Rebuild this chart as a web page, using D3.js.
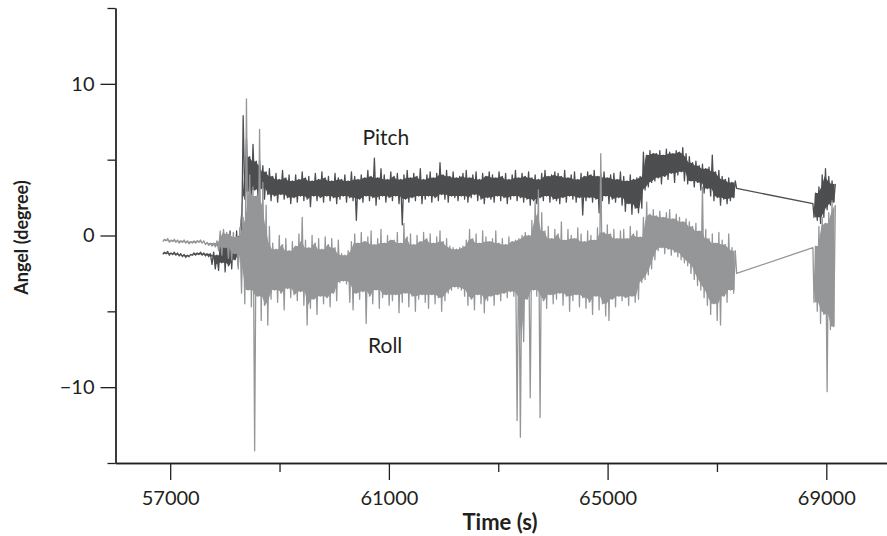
<!DOCTYPE html>
<html><head><meta charset="utf-8">
<script src="https://cdn.jsdelivr.net/npm/d3@7"></script>
<style>body{margin:0;background:#fff} svg{display:block}</style>
</head><body><svg id="c" width="887" height="536"></svg>
<script>
// ---------- data (per-bin low / high envelope) ----------
const seg1Start = 56880, binStep = 60;   // first recorded segment, 60 s bins
const seg1PitchLow = [
 -1.25,-1.2,-1.3,-1.25,-1.3,-1.35,-1.4,-1.45,-1.4,-1.3,
 -1.3,-1.25,-1.3,-1.35,-1.4,-1.9,-2.2,-2.3,-1.8,-2.4,
 -2.0,-2.2,-1.6,-2.0,-1.0,2.4,2.9,2.5,3.0,2.6,
 3.1,2.4,2.7,2.3,2.6,2.2,2.7,2.4,2.5,2.1,
 2.5,2.2,2.6,2.3,2.4,1.9,2.6,2.3,2.5,2.2,
 2.6,2.3,2.5,2.1,2.4,2.6,2.2,2.5,2.3,1.0,
 2.4,2.2,2.6,2.3,2.5,2.0,2.4,2.6,2.2,2.5,
 2.3,2.6,2.1,0.7,2.4,2.2,2.5,2.3,2.6,2.1,
 2.4,2.6,2.2,2.5,2.3,2.7,2.4,2.2,2.6,2.5,
 2.3,2.6,2.4,2.2,2.5,2.7,2.3,2.4,2.1,2.5,
 2.4,2.2,2.6,2.3,2.5,2.1,2.4,2.6,2.3,2.5,
 2.2,2.4,2.0,2.3,2.1,2.5,2.3,2.6,2.2,2.4,
 2.3,2.1,2.5,2.2,2.6,2.4,2.2,2.5,1.35,2.3,
 2.5,2.2,2.4,1.5,2.3,2.6,2.1,2.4,2.2,2.5,
 2.0,1.6,2.1,1.4,1.8,1.5,1.8,3.0,3.2,3.5,
 3.6,3.8,3.4,3.9,3.7,4.1,3.5,4.0,4.2,3.6,
 3.4,3.6,3.2,3.5,3.0,2.8,3.1,2.6,2.3,2.5,
 2.0,2.4,2.1,2.3,2.5
];
const seg1PitchHigh = [
 -1.1,-1.05,-1.15,-1.1,-1.15,-1.2,-1.25,-1.3,-1.25,-1.15,
 -1.15,-1.1,-1.15,-1.2,-1.2,-1.1,-1.3,-0.6,0.1,-0.3,
 0.3,-0.2,0.3,0.0,7.9,6.4,5.2,6.0,4.9,5.0,
 4.6,4.2,4.4,3.9,4.1,3.7,4.3,3.8,4.0,3.6,
 4.0,3.7,4.2,3.8,3.9,3.6,4.1,3.7,4.2,3.8,
 3.9,3.6,4.1,3.8,3.7,4.0,3.6,4.2,3.9,3.7,
 4.0,3.8,4.3,3.9,5.1,3.8,4.4,4.0,3.7,4.2,
 3.9,4.1,3.7,4.0,4.3,3.8,4.1,3.9,4.4,3.7,
 4.0,4.2,3.8,4.1,4.8,4.0,4.3,3.9,4.2,3.8,
 3.9,4.1,4.3,3.8,4.0,4.2,3.7,4.1,3.9,4.2,
 4.0,3.8,4.2,3.9,4.1,3.7,4.0,4.3,3.8,4.1,
 3.9,4.2,3.8,4.0,3.7,4.1,4.3,3.9,4.0,4.2,
 4.1,3.9,4.3,3.8,4.0,4.2,3.7,4.1,3.9,4.2,
 4.0,4.3,3.9,4.1,4.2,3.8,4.0,4.1,3.7,4.2,
 3.9,3.6,4.0,3.7,3.8,3.9,5.5,5.3,5.6,5.4,
 5.4,5.6,5.3,5.7,5.5,5.4,5.6,5.5,5.8,5.4,
 5.2,4.8,4.9,4.6,4.7,4.4,4.5,5.3,4.2,4.3,
 3.9,3.7,3.8,3.5,3.6
];
const seg1RollLow = [
 -0.4,-0.35,-0.45,-0.4,-0.45,-0.5,-0.45,-0.5,-0.55,-0.5,
 -0.5,-0.45,-0.5,-0.6,-0.65,-0.7,-0.75,-1.0,-1.3,-0.8,
 -1.5,-1.6,-1.2,-2.2,-3.8,-4.5,-3.6,-4.7,-14.2,-4.0,
 -5.6,-4.6,-5.9,-4.2,-3.6,-4.4,-3.8,-4.9,-3.5,-4.1,
 -3.9,-4.3,-3.7,-4.6,-5.9,-4.8,-4.2,-5.2,-4.0,-4.5,
 -4.1,-4.7,-3.8,-4.3,-3.1,-3.0,-3.2,-4.4,-4.9,-3.8,
 -4.2,-3.7,-5.8,-4.0,-4.5,-3.6,-4.8,-4.1,-3.9,-4.6,
 -4.3,-3.9,-5.1,-4.4,-3.8,-4.7,-4.0,-5.0,-4.2,-3.9,
 -4.4,-4.8,-3.9,-4.5,-4.1,-5.0,-4.3,-3.8,-3.6,-3.4,
 -3.5,-3.6,-4.0,-4.6,-4.2,-4.9,-3.9,-4.5,-5.1,-4.3,
 -4.0,-4.6,-3.9,-4.3,-3.8,-4.1,-3.7,-4.0,-12.2,-13.3,
 -7.0,-4.2,-10.7,-3.6,-4.0,-12.0,-4.3,-4.8,-3.9,-4.5,
 -4.2,-3.8,-4.6,-4.0,-5.0,-4.3,-3.9,-4.7,-4.1,-4.8,
 -4.4,-5.2,-4.0,-4.9,-4.5,-5.3,-5.6,-4.2,-4.7,-4.0,
 -4.3,-4.1,-4.6,-4.0,-4.4,-4.2,-3.1,-2.9,-2.6,-2.2,
 -1.6,-1.0,-0.8,-1.2,-0.9,-1.3,-1.1,-1.4,-1.6,-1.8,
 -2.0,-2.5,-2.9,-3.3,-3.6,-4.1,-4.6,-5.2,-4.5,-5.6,
 -5.9,-4.0,-4.4,-3.6,-3.8
];
const seg1RollHigh = [
 -0.25,-0.2,-0.3,-0.25,-0.3,-0.35,-0.3,-0.35,-0.4,-0.35,
 -0.35,-0.3,-0.35,-0.45,-0.5,-0.5,-0.35,0.3,0.4,0.2,
 0.1,0.2,-0.1,0.5,1.2,9.0,4.0,3.2,2.6,7.0,
 3.5,2.0,0.6,-0.5,-0.9,0.0,-0.6,-0.2,-1.0,-0.4,
 -0.7,0.1,1.2,-0.3,-0.8,0.0,-0.5,-0.2,-0.9,-0.1,
 -0.6,-0.2,-0.8,-0.3,-1.2,-1.3,-1.0,-0.4,0.1,-0.5,
 0.2,-0.4,-0.1,0.3,-0.6,-0.2,0.4,-0.5,0.0,-0.3,
 -0.3,0.2,-0.5,0.8,-0.1,0.1,-0.6,0.0,-0.4,0.2,
 -0.2,0.1,-0.5,-0.1,0.3,-0.4,-0.2,-0.7,-0.8,-0.9,
 -0.8,-0.7,-0.3,0.4,-0.2,0.1,-0.5,0.3,-0.1,-0.4,
 -0.2,0.3,-0.5,-0.2,-0.6,-0.1,-0.4,-0.3,-0.2,0.0,
 0.2,0.0,1.0,2.3,3.0,1.5,0.3,0.6,-0.2,0.4,
 0.1,0.9,-0.3,0.4,0.0,-0.2,0.5,0.1,-0.4,0.3,
 0.0,-0.3,0.5,5.4,0.2,0.7,0.1,0.4,-0.2,0.3,
 0.4,-0.2,0.6,0.1,0.3,-0.1,1.2,2.2,1.4,1.7,
 1.3,1.6,1.2,1.5,1.7,1.1,1.4,1.2,0.9,1.1,
 0.9,0.6,0.8,0.3,3.2,0.4,-0.2,0.1,-0.5,0.2,
 -0.3,-0.6,0.1,-0.8,-1.0
];
// straight connection across the recording gap: [time, value]
const pitchGap = [[67360, 3.1], [68755, 2.1]];
const rollGap  = [[67360, -2.5], [68755, -0.8]];
const seg2Start = 68790;
const seg2PitchLow  = [1.2, 1.0, 0.8, 1.2, 1.7, 2.0, 2.2];
const seg2PitchHigh = [2.8, 3.2, 4.0, 4.4, 3.9, 3.6, 3.4];
const seg2RollLow   = [-4.4, -5.0, -5.8, -5.2, -10.3, -6.2, -6.0];
const seg2RollHigh  = [-0.7, 0.6, 1.2, 0.8, 1.5, 2.3, 2.0];

const xTicksMajor = [57000, 61000, 65000, 69000];
const xTicksMinor = [59000, 63000, 67000];
const yTicksMajor = [-10, 0, 10];
const yTicksMinor = [-15, -5, 5, 15];

// ---------- build point sequences ----------
function envelope(start, lows, highs) {
  const pts = [];
  lows.forEach((lo, i) => {
    const t = start + i * binStep;
    pts.push([t - binStep / 4, lo], [t + binStep / 4, highs[i]]);
  });
  return pts;
}
// dense core of a band: the range shared by each bin and its neighbours
function core(start, lows, highs) {
  const out = [];
  lows.forEach((lo, i) => {
    const a = Math.max(0, i - 1), b = Math.min(lows.length - 1, i + 1);
    const cLo = d3.max(lows.slice(a, b + 1)), cHi = d3.min(highs.slice(a, b + 1));
    out.push({t: start + i * binStep, lo: cLo, hi: Math.max(cLo, cHi)});
  });
  return out;
}
const pitchPts = [
  ...envelope(seg1Start, seg1PitchLow, seg1PitchHigh),
  ...pitchGap,
  ...envelope(seg2Start, seg2PitchLow, seg2PitchHigh)
];
const rollPts = [
  ...envelope(seg1Start, seg1RollLow, seg1RollHigh),
  ...rollGap,
  ...envelope(seg2Start, seg2RollLow, seg2RollHigh)
];

// ---------- drawing ----------
const svg = d3.select("#c");
const ink = "#231f20";
const pitchColor = "#4d4e50", rollColor = "#959698";
const x = d3.scaleLinear().domain([56000, 70110]).range([115.5, 887]);
const y = d3.scaleLinear().domain([-15, 15]).range([463, 8]);

const line = d3.line().x(d => x(d[0])).y(d => y(d[1]));
const area = d3.area().x(d => x(d.t)).y0(d => y(d.lo)).y1(d => y(d.hi));

function drawSeries(color, pts, segs) {
  const g = svg.append("g");
  segs.forEach(s => g.append("path").datum(core(...s))
    .attr("d", area).attr("fill", color).attr("stroke", "none"));
  g.append("path").datum(pts)
    .attr("d", line).attr("fill", "none")
    .attr("stroke", color).attr("stroke-width", 1.3).attr("stroke-linejoin", "round");
}
drawSeries(pitchColor, pitchPts, [
  [seg1Start, seg1PitchLow, seg1PitchHigh], [seg2Start, seg2PitchLow, seg2PitchHigh]]);
drawSeries(rollColor, rollPts, [
  [seg1Start, seg1RollLow, seg1RollHigh], [seg2Start, seg2RollLow, seg2RollHigh]]);

const font = "Lato, 'Open Sans', sans-serif";

// x axis
const gx = svg.append("g").attr("transform", "translate(0,463)");
gx.call(d3.axisBottom(x).tickValues(xTicksMajor).tickSize(17).tickSizeOuter(0)
  .tickPadding(11).tickFormat(d3.format("d")));
gx.append("g").call(d3.axisBottom(x).tickValues(xTicksMinor).tickSize(9)
  .tickSizeOuter(0).tickFormat(""));

// y axis
const gy = svg.append("g").attr("transform", "translate(115.5,0)");
gy.call(d3.axisLeft(y).tickValues(yTicksMajor).tickSize(15).tickSizeOuter(0)
  .tickPadding(6).tickFormat(d => d < 0 ? "\u2212" + Math.abs(d) : d));
gy.append("g").call(d3.axisLeft(y).tickValues(yTicksMinor).tickSize(8)
  .tickSizeOuter(0).tickFormat(""));

svg.selectAll(".domain, .tick line").attr("stroke", ink).attr("stroke-width", 1.3);
svg.selectAll(".tick text").attr("fill", ink).style("font-family", font).style("font-size", "20px");

// titles
svg.append("text").attr("x", 500).attr("y", 530).attr("text-anchor", "middle")
  .style("font-family", font).style("font-size", "22px").style("font-weight", "bold")
  .attr("fill", ink).text("Time (s)");
svg.append("text").attr("transform", "translate(28,237.5) rotate(-90)")
  .attr("text-anchor", "middle")
  .style("font-family", font).style("font-size", "18px").style("font-weight", "bold")
  .attr("fill", ink).text("Angel (degree)");

// series labels
svg.append("text").attr("x", 362.5).attr("y", 145)
  .style("font-family", font).style("font-size", "21px").attr("fill", ink).text("Pitch");
svg.append("text").attr("x", 368).attr("y", 353)
  .style("font-family", font).style("font-size", "21px").attr("fill", ink).text("Roll");
</script></body></html>
